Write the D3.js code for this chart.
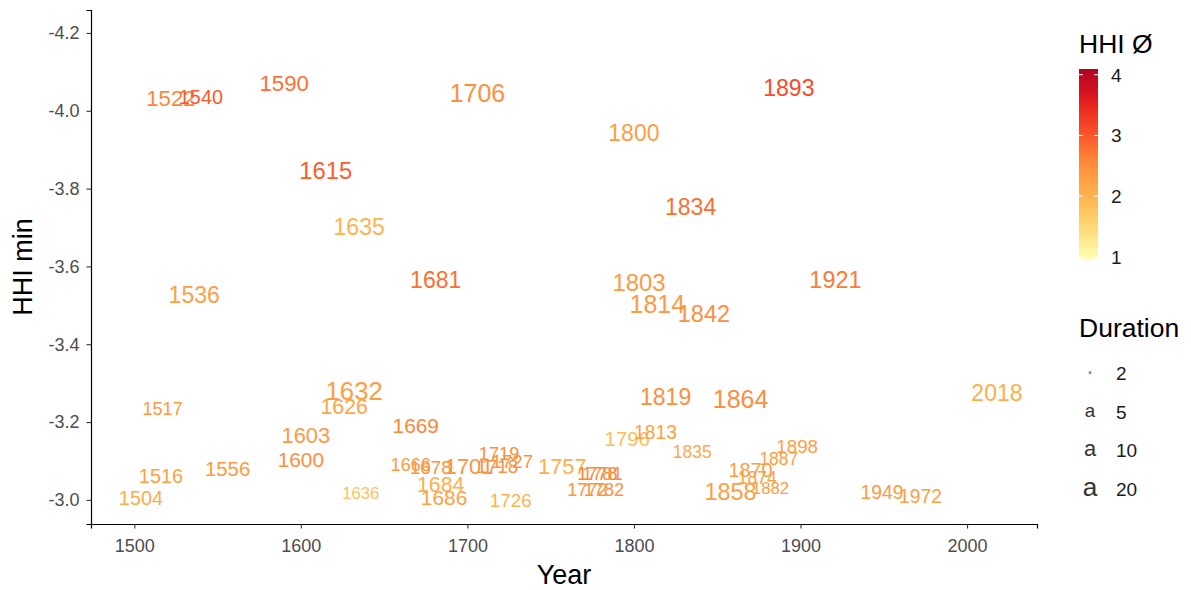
<!DOCTYPE html>
<html>
<head>
<meta charset="utf-8">
<script src="https://cdn.jsdelivr.net/npm/d3@7"></script>
<style>
  html, body { margin: 0; padding: 0; background: #ffffff; }
  svg { display: block; font-family: "Liberation Sans", Arial, "DejaVu Sans", sans-serif; }
</style>
</head>
<body>
<svg id="chart" width="1191" height="590"></svg>
<script>
// ---------------- data ----------------
const years = [1522, 1540, 1590, 1706, 1893, 1800, 1615, 1834, 1635, 1681,
               1803, 1921, 1536, 1814, 1842, 1632, 1626, 1517, 1819, 1864,
               2018, 1603, 1669, 1796, 1813, 1835, 1898, 1887, 1870, 1874,
               1882, 1858, 1949, 1972, 1719, 1666, 1678, 1701, 1718, 1727,
               1757, 1778, 1781, 1772, 1782, 1684, 1686, 1726, 1600, 1556,
               1516, 1504, 1636];
const hhiMin = [-4.033, -4.037, -4.072, -4.046, -4.059, -3.943, -3.846, -3.753, -3.702, -3.566,
                -3.558, -3.566, -3.527, -3.504, -3.478, -3.281, -3.240, -3.236, -3.265, -3.260,
                -3.275, -3.167, -3.191, -3.157, -3.175, -3.124, -3.137, -3.107, -3.077, -3.056,
                -3.030, -3.021, -3.019, -3.011, -3.120, -3.090, -3.084, -3.086, -3.086, -3.098,
                -3.087, -3.067, -3.067, -3.028, -3.028, -3.039, -3.006, -3.000, -3.104, -3.080,
                -3.062, -3.005, -3.017];
const hhiMean = [2.6, 3.0, 2.8, 2.5, 3.1, 2.3, 2.95, 2.8, 2.0, 2.8,
                 2.35, 2.7, 2.25, 2.35, 2.5, 2.3, 2.2, 2.35, 2.5, 2.5,
                 2.05, 2.35, 2.6, 1.85, 2.25, 2.15, 2.3, 2.3, 2.3, 2.3,
                 2.3, 2.3, 2.35, 2.25, 2.5, 2.35, 2.45, 2.45, 2.5, 2.45,
                 2.05, 2.6, 2.5, 2.45, 2.45, 2.05, 2.25, 2.0, 2.5, 2.35,
                 2.25, 2.1, 1.8];
const duration = [15, 10, 15, 22, 17, 17, 19, 17, 17, 17,
                  19, 18, 17, 22, 18, 24, 13, 7, 17, 22,
                  17, 14, 12, 11, 9, 6, 8, 6, 10, 6,
                  5, 18, 9, 9, 7, 7, 8, 14, 8, 8,
                  14, 7, 7, 7, 7, 13, 12, 8, 12, 11,
                  10, 10, 5];

const xTicks = [1500, 1600, 1700, 1800, 1900, 2000];
const yTicks = [-4.2, -4.0, -3.8, -3.6, -3.4, -3.2, -3.0];
const colorTicks = [1, 2, 3, 4];
const sizeBreaks = [2, 5, 10, 20];
const palette = ["#ffffb2", "#fed976", "#feb24c", "#fd8d3c", "#fc4e2a", "#e31a1c", "#b10026"];

// ---------------- layout ----------------
const svg = d3.select("#chart");
const plot = { left: 91, right: 1037, top: 10, bottom: 524 };

const x = d3.scaleLinear().domain([1474, 2042]).range([plot.left, plot.right]);
const y = d3.scaleLinear().domain([-2.938, -4.259]).range([plot.bottom, plot.top]);
const color = d3.scaleSequential(d3.piecewise(d3.interpolateLab, palette)).domain([0.967, 4.094]);
const size = d3.scalePow().exponent(0.5).domain([2, 4, 25]).range([3, 16, 26]);

const data = years.map((yr, i) => ({ year: yr, v: hhiMin[i], m: hhiMean[i], d: duration[i] }));

// ---------------- labels ----------------
svg.append("g")
  .selectAll("text")
  .data(data)
  .join("text")
  .attr("x", d => x(d.year))
  .attr("y", d => y(d.v))
  .attr("dy", "0.36em")
  .attr("text-anchor", "middle")
  .attr("font-size", d => size(d.d) + "px")
  .attr("fill", d => color(d.m))
  .text(d => d.year);

// ---------------- axes ----------------
const axisColor = "#000000";
const tickTextColor = "#4d4d4d";

const xAxis = svg.append("g")
  .attr("transform", `translate(0,${plot.bottom})`)
  .call(d3.axisBottom(x).tickValues(xTicks).tickFormat(d3.format("d")).tickSizeOuter(0).tickSize(4.5).tickPadding(11));
xAxis.select(".domain").attr("stroke", axisColor).attr("stroke-width", 1.2);
xAxis.selectAll(".tick line").attr("stroke", "#333333").attr("stroke-width", 1.1);
xAxis.selectAll(".tick text").attr("fill", tickTextColor).attr("font-size", "18px")
  .attr("font-family", "'Liberation Sans', Arial, sans-serif");

const yAxis = svg.append("g")
  .attr("transform", `translate(${plot.left},0)`)
  .call(d3.axisLeft(y).tickValues(yTicks).tickFormat(d => d3.format(".1f")(d).replace("\u2212", "-")).tickSizeOuter(0).tickSize(4.5).tickPadding(7));
yAxis.select(".domain").attr("stroke", axisColor).attr("stroke-width", 1.2);
yAxis.selectAll(".tick line").attr("stroke", "#333333").attr("stroke-width", 1.1);
yAxis.selectAll(".tick text").attr("fill", tickTextColor).attr("font-size", "18px")
  .attr("font-family", "'Liberation Sans', Arial, sans-serif");

// axis titles
svg.append("text")
  .attr("x", (plot.left + plot.right) / 2)
  .attr("y", 584)
  .attr("text-anchor", "middle")
  .attr("font-size", "27px")
  .attr("fill", "#000")
  .text("Year");

svg.append("text")
  .attr("transform", `translate(32,${(plot.top + plot.bottom) / 2}) rotate(-90)`)
  .attr("text-anchor", "middle")
  .attr("font-size", "27px")
  .attr("fill", "#000")
  .text("HHI min");

// ---------------- colour legend ----------------
const lg = { x: 1079, w: 19, top: 69, bottom: 259 };
const cy = d3.scaleLinear().domain(color.domain()).range([lg.bottom, lg.top]);

svg.append("text")
  .attr("x", lg.x).attr("y", 53)
  .attr("font-size", "26.5px").attr("fill", "#000")
  .text("HHI \u00D8");

const defs = svg.append("defs");
const grad = defs.append("linearGradient")
  .attr("id", "hhiGrad").attr("x1", "0").attr("y1", "1").attr("x2", "0").attr("y2", "0");
d3.range(0, 1.0001, 0.05).forEach(t => {
  const v = color.domain()[0] + t * (color.domain()[1] - color.domain()[0]);
  grad.append("stop").attr("offset", t).attr("stop-color", color(v));
});
svg.append("rect")
  .attr("x", lg.x).attr("y", lg.top)
  .attr("width", lg.w).attr("height", lg.bottom - lg.top)
  .attr("fill", "url(#hhiGrad)");

const cTicks = svg.append("g");
colorTicks.forEach(t => {
  const py = cy(t);
  cTicks.append("line").attr("x1", lg.x).attr("x2", lg.x + 4).attr("y1", py).attr("y2", py)
    .attr("stroke", "#ffffff").attr("stroke-width", 1);
  cTicks.append("line").attr("x1", lg.x + lg.w - 4).attr("x2", lg.x + lg.w).attr("y1", py).attr("y2", py)
    .attr("stroke", "#ffffff").attr("stroke-width", 1);
  cTicks.append("text").attr("x", 1111).attr("y", py).attr("dy", "0.36em")
    .attr("font-size", "19px").attr("fill", "#1a1a1a").text(t);
});

// ---------------- size legend ----------------
svg.append("text")
  .attr("x", lg.x).attr("y", 337)
  .attr("font-size", "26.5px").attr("fill", "#000")
  .text("Duration");

const keyY = d3.scalePoint().domain(sizeBreaks).range([373, 489]);
const sk = svg.append("g");
sizeBreaks.forEach(b => {
  sk.append("text")
    .attr("x", 1090).attr("y", keyY(b)).attr("dy", "0.26em")
    .attr("text-anchor", "middle")
    .attr("font-size", (size(b) + 2) + "px")
    .attr("fill", "#333333")
    .text("a");
  sk.append("text")
    .attr("x", 1116).attr("y", keyY(b)).attr("dy", "0.36em")
    .attr("font-size", "19px").attr("fill", "#1a1a1a")
    .text(b);
});
</script>
</body>
</html>
